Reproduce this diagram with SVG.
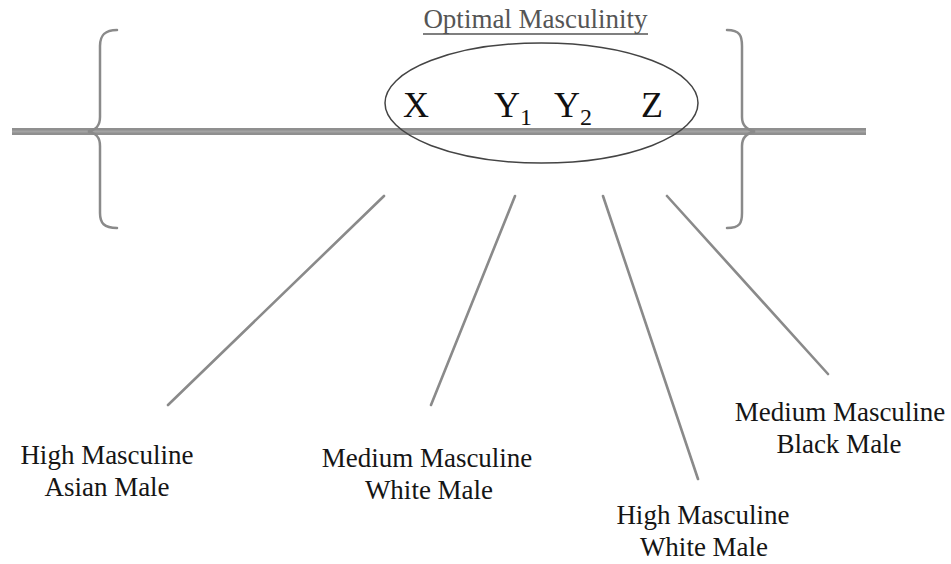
<svg xmlns="http://www.w3.org/2000/svg" width="951" height="564" viewBox="0 0 951 564">
<style>
.lbl{font-family:"Liberation Serif","Times New Roman",serif;font-size:27px;fill:#151515;text-anchor:middle}
.var{font-family:"Liberation Serif","Times New Roman",serif;font-size:36px;fill:#111}
.sub{font-size:24px}
.title{font-family:"Liberation Serif","Times New Roman",serif;font-size:27px;fill:#555;text-anchor:middle}
.brace{fill:none;stroke:#8a8a8a;stroke-width:2.5;stroke-linecap:round}
.conn{stroke:#8a8a8a;stroke-width:2.6;stroke-linecap:round}
</style>
<rect width="951" height="564" fill="#fff"/>
<g id="axis">
<line x1="12" y1="131.5" x2="866" y2="131.5" stroke="#8f8f8f" stroke-width="7"/>
<line x1="12" y1="131.5" x2="866" y2="131.5" stroke="#a3a3a3" stroke-width="2"/>
</g>
<g id="left-brace">
<path class="brace" d="M117,30 C104,30 100,36 100,46 L100,117 C100,126 96,130 88,131.5 C96,133 100,137 100,146 L100,213 C100,223 104,228 117,228"/>
</g>
<g id="right-brace">
<path class="brace" d="M727,30 C740,30 742,36 742,46 L742,117 C742,126 747,130 755,131.5 C747,133 742,137 742,146 L742,213 C742,223 740,228 727,228"/>
</g>
<g id="optimal">
<text class="title" x="535.5" y="28">Optimal Masculinity</text>
<line x1="423" y1="34" x2="648" y2="34" stroke="#555" stroke-width="1.3"/>
<ellipse cx="541.5" cy="103" rx="156.5" ry="60" fill="none" stroke="#444" stroke-width="1.5"/>
<text class="var" x="403" y="117">X</text>
<text class="var" x="494" y="117">Y<tspan class="sub" dy="8">1</tspan></text>
<text class="var" x="554" y="117">Y<tspan class="sub" dy="8">2</tspan></text>
<text class="var" x="641" y="117">Z</text>
</g>
<g id="connectors">
<line class="conn" x1="384" y1="196" x2="168" y2="405"/>
<line class="conn" x1="515" y1="196" x2="431" y2="405"/>
<line class="conn" x1="603" y1="196" x2="698" y2="479"/>
<line class="conn" x1="667" y1="196" x2="828" y2="374"/>
</g>
<g id="high-asian">
<text class="lbl" x="107" y="464">High Masculine</text>
<text class="lbl" x="107" y="496">Asian Male</text>
</g>
<g id="medium-white">
<text class="lbl" x="427" y="467">Medium Masculine</text>
<text class="lbl" x="429" y="499">White Male</text>
</g>
<g id="high-white">
<text class="lbl" x="703" y="524">High Masculine</text>
<text class="lbl" x="704" y="556">White Male</text>
</g>
<g id="medium-black">
<text class="lbl" x="840" y="421">Medium Masculine</text>
<text class="lbl" x="839" y="453">Black Male</text>
</g>
</svg>
